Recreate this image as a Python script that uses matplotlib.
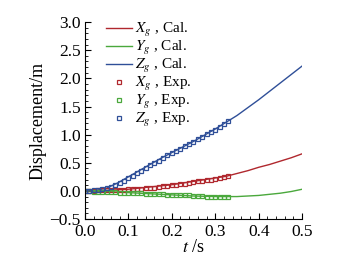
import matplotlib
matplotlib.use("Agg")
import matplotlib.pyplot as plt
from matplotlib.ticker import MultipleLocator

plt.rcParams['font.family'] = ['Liberation Serif', 'DejaVu Serif']
plt.rcParams['mathtext.fontset'] = 'stix'

# Calculated curves
t_cal = [0.0, 0.025, 0.05, 0.075, 0.1, 0.125, 0.15, 0.175, 0.2, 0.225, 0.25,
         0.275, 0.3, 0.325, 0.35, 0.375, 0.4, 0.425, 0.45, 0.475, 0.5]
x_cal = [0.0, 0.0, 0.01, 0.02, 0.03, 0.05, 0.07, 0.09, 0.11, 0.14, 0.17,
         0.20, 0.23, 0.26, 0.31, 0.36, 0.42, 0.47, 0.53, 0.59, 0.66]
y_cal = [0.0, -0.005, -0.01, -0.02, -0.03, -0.04, -0.05, -0.06, -0.07, -0.08, -0.09,
         -0.095, -0.10, -0.10, -0.10, -0.09, -0.08, -0.06, -0.04, -0.01, 0.03]
z_cal = [0.0, 0.01, 0.05, 0.14, 0.25, 0.36, 0.47, 0.58, 0.68, 0.78, 0.88,
         0.99, 1.10, 1.22, 1.34, 1.48, 1.62, 1.77, 1.92, 2.07, 2.22]

# Experimental points
t_exp = [0.00, 0.01, 0.02, 0.03, 0.04, 0.05, 0.06, 0.07, 0.08, 0.09, 0.10, 0.11,
         0.12, 0.13, 0.14, 0.15, 0.16, 0.17, 0.18, 0.19, 0.20, 0.21, 0.22, 0.23,
         0.24, 0.25, 0.26, 0.27, 0.28, 0.29, 0.30, 0.31, 0.32, 0.33]
x_exp = [0.00, 0.00, 0.00, 0.01, 0.01, 0.01, 0.01, 0.02, 0.02, 0.02, 0.03, 0.03,
         0.04, 0.04, 0.05, 0.06, 0.06, 0.07, 0.08, 0.09, 0.10, 0.11, 0.12, 0.13,
         0.14, 0.15, 0.17, 0.18, 0.19, 0.20, 0.22, 0.23, 0.25, 0.26]
y_exp = [0.00, 0.00, -0.01, -0.01, -0.01, -0.02, -0.02, -0.02, -0.03, -0.03, -0.03, -0.04,
         -0.04, -0.04, -0.05, -0.05, -0.05, -0.06, -0.06, -0.07, -0.07, -0.07, -0.08, -0.08,
         -0.08, -0.09, -0.09, -0.09, -0.10, -0.10, -0.10, -0.10, -0.10, -0.10]
z_exp = [0.00, 0.00, 0.01, 0.02, 0.03, 0.05, 0.07, 0.10, 0.14, 0.18, 0.23, 0.27,
         0.32, 0.36, 0.41, 0.46, 0.50, 0.54, 0.59, 0.63, 0.67, 0.71, 0.75, 0.79,
         0.83, 0.87, 0.92, 0.96, 1.01, 1.05, 1.09, 1.14, 1.19, 1.24]

labels_cal = [r'$X_g$ , Cal.', r'$Y_g$ , Cal.', r'$Z_g$ , Cal.']
labels_exp = [r'$X_g$ , Exp.', r'$Y_g$ , Exp.', r'$Z_g$ , Exp.']
colors = ['#b0282e', '#4aa83c', '#2f4f98']

fig = plt.figure(figsize=(3.58, 2.63), dpi=100)
ax = fig.add_axes([0.237, 0.167, 0.607, 0.749])

for ys, lab, c in zip([x_cal, y_cal, z_cal], labels_cal, colors):
    ax.plot(t_cal, ys, color=c, lw=1.0, label=lab)
for ys, lab, c in zip([x_exp, y_exp, z_exp], labels_exp, colors):
    ax.plot(t_exp, ys, ls='none', marker='s', ms=2.6, mfc='none', mec=c, mew=0.9, label=lab)

ax.set_xlim(0, 0.5)
ax.set_ylim(-0.5, 3.0)
ax.xaxis.set_major_locator(MultipleLocator(0.1))
ax.xaxis.set_minor_locator(MultipleLocator(0.02))
ax.yaxis.set_major_locator(MultipleLocator(0.5))
ax.yaxis.set_minor_locator(MultipleLocator(0.1))
ax.tick_params(which='major', direction='in', length=4, width=0.8, labelsize=12.5)
ax.tick_params(axis='x', pad=3.5)
ax.tick_params(axis='y', pad=3)
ax.tick_params(which='minor', direction='in', length=2, width=0.6)
for s in ['top', 'right']:
    ax.spines[s].set_visible(False)

ax.set_xlabel(r'$t$ /s', fontsize=13, labelpad=-1)
ax.set_ylabel('Displacement/m', fontsize=13, labelpad=2)

ax.legend(loc='upper left', bbox_to_anchor=(0.055, 1.05), frameon=False, fontsize=11,
          handlelength=1.7, handletextpad=0.2, labelspacing=0.0, borderpad=0.1)

fig.savefig('out.png', dpi=100)
